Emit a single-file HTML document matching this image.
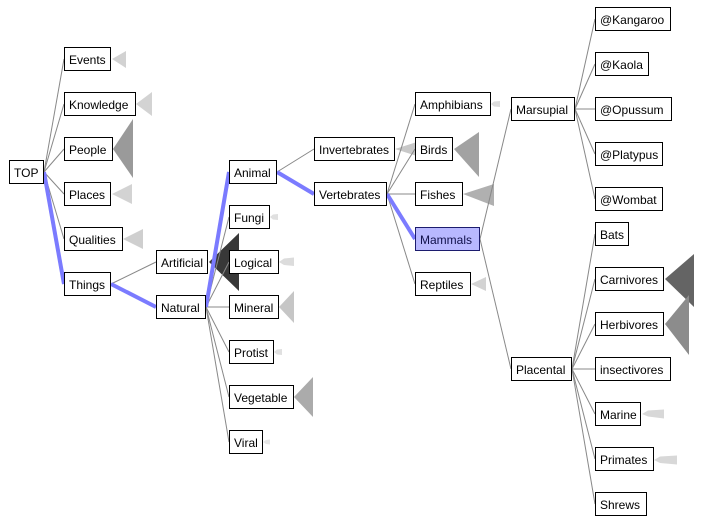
<!DOCTYPE html>
<html><head><meta charset="utf-8"><style>
html,body{margin:0;padding:0;background:#fff;}
svg{display:block;}
text{font-family:"Liberation Sans",Arial,sans-serif;font-size:12px;fill:#000;}
</style></head><body>
<svg width="728" height="525" viewBox="0 0 728 525" xmlns="http://www.w3.org/2000/svg">
<rect width="728" height="525" fill="#fff"/>
<!-- hint triangles -->
<g>
<polygon points="112,59 126,51 126,68" fill="#d2d2d2"/>
<polygon points="136,104 152,92 152,116" fill="#d3d3d3"/>
<polygon points="113,149 133,119 133,178" fill="#9a9a9a"/>
<polygon points="112,194 132,184 132,204" fill="#d3d3d3"/>
<polygon points="123,239 143,229 143,249" fill="#cfcfcf"/>
<polygon points="209,262 239,233 239,291" fill="#383838"/>
<polygon points="270,217 273,214.5 278,214 278,220 273,219.5" fill="#e0e0e0"/>
<polygon points="279,262 284,258.5 294,257.5 294,266 284,265" fill="#dcdcdc"/>
<polygon points="279,307 294,291 294,323" fill="#c6c6c6"/>
<polygon points="274,352 277,349.5 282,349 282,355 277,354.5" fill="#e0e0e0"/>
<polygon points="294,397 313,377 313,417" fill="#ababab"/>
<polygon points="263,442 266,440 270,439.5 270,444.5 266,444" fill="#e6e6e6"/>
<polygon points="395,149 420,141 420,157" fill="#c8c8c8"/>
<polygon points="491,104 494,101.5 500,101 500,107 494,106.5" fill="#dcdcdc"/>
<polygon points="454,149 479,132 479,177" fill="#a2a2a2"/>
<polygon points="463,194 494,184 494,206" fill="#b0b0b0"/>
<polygon points="471,284 486,277 486,291" fill="#d3d3d3"/>
<polygon points="665,279 694,254 694,307" fill="#646464"/>
<polygon points="665,324 689,295 689,355" fill="#8c8c8c"/>
<polygon points="642,414 648,410.5 664,409.5 664,418.5 648,416.5" fill="#d8d8d8"/>
<polygon points="654,460 660,456.5 677,455.5 677,464.5 660,463" fill="#d8d8d8"/>
</g>
<!-- gray connectors -->
<g stroke="#888" stroke-width="1" fill="none">
<line x1="44" y1="172" x2="64" y2="59"/>
<line x1="44" y1="172" x2="64" y2="104"/>
<line x1="44" y1="172" x2="64" y2="149"/>
<line x1="44" y1="172" x2="64" y2="194"/>
<line x1="44" y1="172" x2="64" y2="239"/>
<line x1="111" y1="284" x2="156" y2="262"/>
<line x1="206" y1="307" x2="229" y2="217"/>
<line x1="206" y1="307" x2="229" y2="262"/>
<line x1="206" y1="307" x2="229" y2="307"/>
<line x1="206" y1="307" x2="229" y2="352"/>
<line x1="206" y1="307" x2="229" y2="397"/>
<line x1="206" y1="307" x2="229" y2="442"/>
<line x1="277" y1="172" x2="314" y2="149"/>
<line x1="387" y1="194" x2="415" y2="104"/>
<line x1="387" y1="194" x2="415" y2="149"/>
<line x1="387" y1="194" x2="415" y2="194"/>
<line x1="387" y1="194" x2="415" y2="284"/>
<line x1="480" y1="239" x2="511" y2="109"/>
<line x1="480" y1="239" x2="511" y2="369"/>
<line x1="575" y1="109" x2="595" y2="19"/>
<line x1="575" y1="109" x2="595" y2="64"/>
<line x1="575" y1="109" x2="595" y2="109"/>
<line x1="575" y1="109" x2="595" y2="154"/>
<line x1="575" y1="109" x2="595" y2="199"/>
<line x1="572" y1="369" x2="595" y2="234"/>
<line x1="572" y1="369" x2="595" y2="279"/>
<line x1="572" y1="369" x2="595" y2="324"/>
<line x1="572" y1="369" x2="595" y2="369"/>
<line x1="572" y1="369" x2="595" y2="414"/>
<line x1="572" y1="369" x2="595" y2="459"/>
<line x1="572" y1="369" x2="595" y2="504"/>
</g>
<!-- blue path -->
<g stroke="#7b7bff" stroke-width="4" fill="none" stroke-linecap="butt">
<line x1="44" y1="172" x2="64" y2="284"/>
<line x1="111" y1="284" x2="156" y2="307"/>
<line x1="206" y1="307" x2="229" y2="172"/>
<line x1="277" y1="172" x2="314" y2="194"/>
<line x1="387" y1="194" x2="415" y2="239"/>
</g>
<!-- boxes -->
<g fill="#fff" stroke="#000" stroke-width="1">
<rect x="9.5" y="160.5" width="34" height="23"/>
<rect x="64.5" y="47.5" width="46" height="23"/>
<rect x="64.5" y="92.5" width="71" height="23"/>
<rect x="64.5" y="137.5" width="48" height="23"/>
<rect x="64.5" y="182.5" width="46" height="23"/>
<rect x="64.5" y="227.5" width="58" height="23"/>
<rect x="64.5" y="272.5" width="46" height="23"/>
<rect x="156.5" y="250.5" width="51" height="23"/>
<rect x="156.5" y="295.5" width="49" height="23"/>
<rect x="229.5" y="160.5" width="47" height="23"/>
<rect x="229.5" y="205.5" width="40" height="23"/>
<rect x="229.5" y="250.5" width="49" height="23"/>
<rect x="229.5" y="295.5" width="49" height="23"/>
<rect x="229.5" y="340.5" width="44" height="23"/>
<rect x="229.5" y="385.5" width="64" height="23"/>
<rect x="229.5" y="430.5" width="33" height="23"/>
<rect x="314.5" y="137.5" width="80" height="23"/>
<rect x="314.5" y="182.5" width="72" height="23"/>
<rect x="415.5" y="92.5" width="75" height="23"/>
<rect x="415.5" y="137.5" width="37" height="23"/>
<rect x="415.5" y="182.5" width="47" height="23"/>
<rect x="415.5" y="227.5" width="64" height="23" fill="#b8b8ff" stroke="#1c1c6e"/>
<rect x="415.5" y="272.5" width="55" height="23"/>
<rect x="511.5" y="97.5" width="63" height="23"/>
<rect x="511.5" y="357.5" width="60" height="23"/>
<rect x="595.5" y="7.5" width="75" height="23"/>
<rect x="595.5" y="52.5" width="53" height="23"/>
<rect x="595.5" y="97.5" width="76" height="23"/>
<rect x="595.5" y="142.5" width="67" height="23"/>
<rect x="595.5" y="187.5" width="67" height="23"/>
<rect x="595.5" y="222.5" width="33" height="23"/>
<rect x="595.5" y="267.5" width="68" height="23"/>
<rect x="595.5" y="312.5" width="68" height="23"/>
<rect x="595.5" y="357.5" width="75" height="23"/>
<rect x="595.5" y="402.5" width="45" height="23"/>
<rect x="595.5" y="447.5" width="58" height="23"/>
<rect x="595.5" y="492.5" width="51" height="23"/>
</g>
<!-- labels -->
<g>
<text x="14" y="177">TOP</text>
<text x="69" y="64">Events</text>
<text x="69" y="109">Knowledge</text>
<text x="69" y="154">People</text>
<text x="69" y="199">Places</text>
<text x="69" y="244">Qualities</text>
<text x="69" y="289">Things</text>
<text x="161" y="267">Artificial</text>
<text x="161" y="312">Natural</text>
<text x="234" y="177">Animal</text>
<text x="234" y="222">Fungi</text>
<text x="234" y="267">Logical</text>
<text x="234" y="312">Mineral</text>
<text x="234" y="357">Protist</text>
<text x="234" y="402">Vegetable</text>
<text x="234" y="447">Viral</text>
<text x="319" y="154">Invertebrates</text>
<text x="319" y="199">Vertebrates</text>
<text x="420" y="109">Amphibians</text>
<text x="420" y="154">Birds</text>
<text x="420" y="199">Fishes</text>
<text x="420" y="244" style="fill:#10104a">Mammals</text>
<text x="420" y="289">Reptiles</text>
<text x="516" y="114">Marsupial</text>
<text x="516" y="374">Placental</text>
<text x="600" y="24">@Kangaroo</text>
<text x="600" y="69">@Kaola</text>
<text x="600" y="114">@Opussum</text>
<text x="600" y="159">@Platypus</text>
<text x="600" y="204">@Wombat</text>
<text x="600" y="239">Bats</text>
<text x="600" y="284">Carnivores</text>
<text x="600" y="329">Herbivores</text>
<text x="600" y="374">insectivores</text>
<text x="600" y="419">Marine</text>
<text x="600" y="464">Primates</text>
<text x="600" y="509">Shrews</text>
</g>
</svg>
</body></html>
